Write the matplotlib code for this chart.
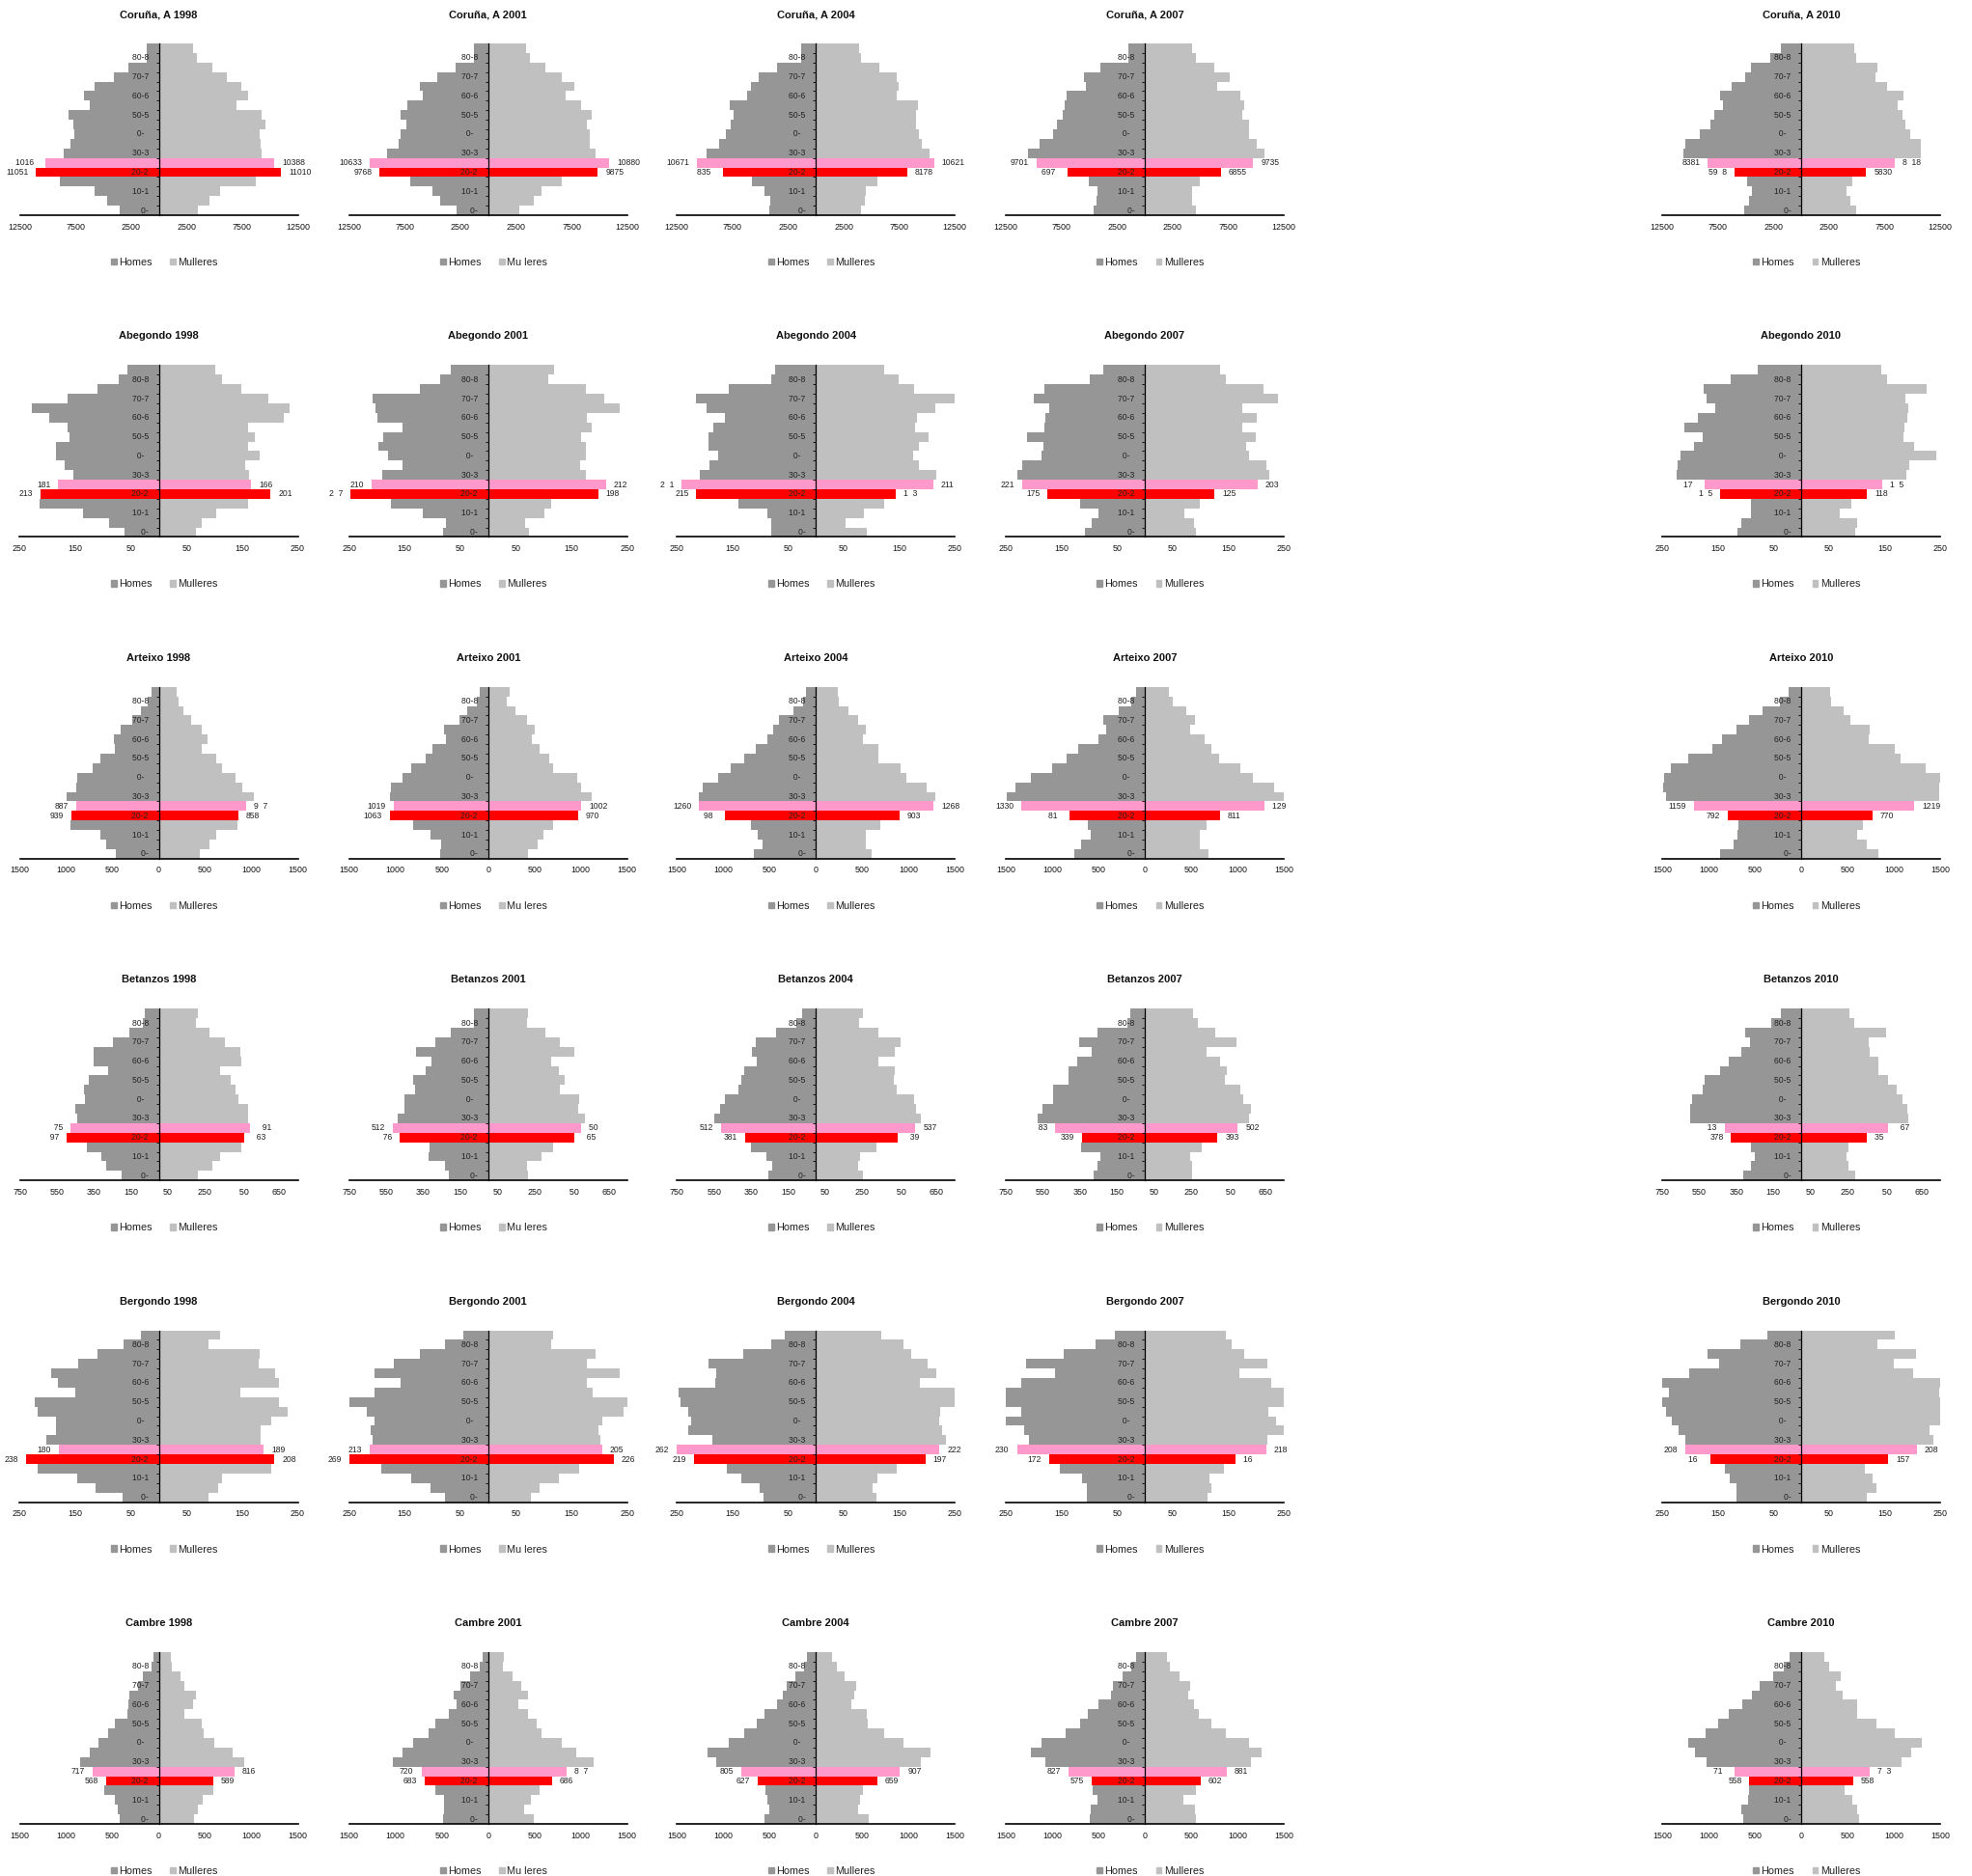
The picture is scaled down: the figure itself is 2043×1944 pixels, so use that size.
"""
Population pyramids (Homes / Mulleres) by 5-year age group for six municipalities
and five census years. Ages 20-24 and 25-29 are highlighted.
The original render had no glyph for '4' (and sometimes 'l'), so the small labels
show a blank there; that is reproduced on purpose.
"""
import matplotlib

matplotlib.use("Agg")
import matplotlib.pyplot as plt
from matplotlib.patches import Patch

plt.rcParams["font.family"] = ["Liberation Sans", "DejaVu Sans"]

YEARS = [1998, 2001, 2004, 2007, 2010]
MUNICIPALITIES = ["Coruña, A", "Abegondo", "Arteixo", "Betanzos", "Bergondo", "Cambre"]
AGE_LABELS = ["0-4", "10-14", "20-24", "30-34", "40-44", "50-54", "60-64", "70-74", "80-84"]

# values per age group, bottom (0-4) to top (85+)
CORUNA_HOMES = {
    1998: [3500, 4640, 5780, 8890, 11051, 10164, 8510, 7900, 7600, 7680, 8130, 6230, 6690, 5780, 4030, 2740, 1060, 1060],
    2001: [2860, 4290, 4970, 7000, 9768, 10633, 9110, 8060, 7900, 7380, 7830, 7230, 5870, 6100, 4590, 2940, 1280, 1280],
    2004: [4220, 4070, 4670, 5720, 8354, 10671, 9860, 8730, 8060, 7680, 7380, 7760, 6170, 5870, 5120, 3460, 1360, 1360],
    2007: [4590, 4370, 4290, 5040, 6974, 9701, 10470, 9490, 8280, 7900, 7380, 7230, 7000, 5270, 5500, 3990, 1510, 1510],
    2010: [5120, 4680, 4390, 4860, 5948, 8381, 10570, 10390, 9130, 8170, 7810, 7050, 7320, 6290, 5030, 4510, 2810, 1840],
}
CORUNA_MULLERES = {
    1998: [3500, 4560, 5550, 8740, 11010, 10388, 9270, 9200, 9040, 9580, 9270, 6990, 8060, 7450, 6080, 4860, 3420, 3120],
    2001: [2790, 4070, 4820, 6630, 9875, 10880, 9640, 9110, 9110, 8890, 9340, 8360, 6930, 7760, 6630, 5120, 3770, 3390],
    2004: [4070, 4370, 4520, 5500, 8178, 10621, 10240, 9490, 9260, 8960, 8960, 9190, 7300, 7450, 7230, 5720, 4070, 3840],
    2007: [4590, 4290, 4290, 4970, 6855, 9735, 10770, 10090, 9340, 9340, 8810, 8960, 8580, 6550, 7680, 6250, 4590, 4220],
    2010: [4980, 4420, 4100, 4620, 5830, 8418, 10770, 10740, 9830, 9340, 9100, 8720, 9160, 7730, 6700, 6850, 4980, 4800],
}
ABEGONDO_HOMES = {
    1998: [62, 89, 136, 214, 213, 181, 154, 169, 185, 185, 160, 164, 197, 229, 164, 110, 72, 57],
    2001: [81, 76, 118, 175, 247, 210, 190, 154, 180, 197, 189, 154, 199, 203, 208, 123, 87, 68],
    2004: [81, 80, 87, 139, 215, 241, 208, 191, 175, 194, 194, 185, 163, 197, 215, 157, 81, 74],
    2007: [108, 96, 83, 116, 175, 221, 229, 220, 185, 182, 211, 181, 178, 172, 200, 181, 99, 75],
    2010: [115, 108, 90, 90, 145, 174, 224, 223, 217, 193, 177, 210, 185, 155, 170, 175, 126, 78],
}
ABEGONDO_MULLERES = {
    1998: [66, 78, 104, 161, 201, 166, 163, 155, 182, 160, 172, 161, 224, 235, 197, 149, 114, 101],
    2001: [73, 67, 102, 114, 198, 212, 176, 165, 175, 175, 168, 187, 178, 236, 209, 175, 109, 118],
    2004: [92, 53, 87, 122, 143, 211, 217, 185, 175, 185, 202, 179, 181, 214, 250, 176, 148, 122],
    2007: [92, 89, 72, 99, 125, 203, 224, 218, 188, 182, 200, 176, 202, 176, 239, 214, 146, 136],
    2010: [98, 100, 69, 91, 118, 145, 190, 194, 243, 203, 184, 185, 191, 193, 187, 225, 155, 144],
}
ARTEIXO_HOMES = {
    1998: [461, 570, 633, 949, 939, 887, 994, 895, 877, 714, 633, 470, 488, 416, 289, 190, 118, 81],
    2001: [515, 506, 624, 805, 1063, 1019, 1058, 1049, 922, 832, 669, 597, 452, 479, 307, 226, 127, 90],
    2004: [670, 574, 629, 705, 984, 1260, 1265, 1217, 1054, 919, 774, 650, 522, 463, 401, 242, 140, 104],
    2007: [759, 687, 588, 615, 814, 1330, 1490, 1392, 1229, 1003, 841, 714, 497, 416, 452, 280, 145, 90],
    2010: [870, 733, 688, 681, 792, 1159, 1460, 1490, 1483, 1410, 1214, 956, 853, 698, 561, 413, 227, 138],
}
ARTEIXO_MULLERES = {
    1998: [443, 551, 624, 850, 858, 947, 1031, 904, 823, 687, 624, 461, 524, 461, 353, 262, 217, 190],
    2001: [425, 533, 597, 705, 970, 1002, 1121, 1003, 958, 705, 660, 551, 470, 506, 416, 298, 199, 235],
    2004: [597, 540, 540, 691, 903, 1268, 1293, 1199, 975, 912, 670, 670, 505, 543, 456, 353, 245, 232],
    2007: [687, 597, 597, 669, 811, 1294, 1495, 1392, 1166, 1031, 805, 723, 651, 488, 542, 443, 307, 262],
    2010: [832, 712, 599, 671, 770, 1219, 1490, 1486, 1495, 1348, 1073, 1011, 729, 740, 530, 454, 327, 310],
}
BETANZOS_HOMES = {
    1998: [203, 285, 312, 389, 497, 475, 438, 452, 398, 402, 380, 276, 353, 353, 249, 158, 86, 77],
    2001: [212, 235, 321, 316, 476, 512, 488, 452, 452, 393, 407, 339, 307, 389, 285, 203, 77, 77],
    2004: [258, 235, 267, 348, 381, 512, 551, 515, 493, 420, 402, 389, 321, 344, 325, 217, 108, 72],
    2007: [276, 253, 240, 344, 339, 483, 579, 551, 493, 493, 411, 411, 362, 285, 353, 253, 95, 77],
    2010: [313, 270, 250, 270, 378, 413, 601, 601, 587, 532, 522, 437, 390, 322, 274, 300, 159, 111],
}
BETANZOS_MULLERES = {
    1998: [212, 289, 330, 447, 463, 491, 484, 484, 429, 416, 389, 330, 447, 438, 357, 276, 199, 212],
    2001: [217, 208, 289, 348, 465, 504, 520, 484, 493, 389, 411, 380, 339, 466, 389, 307, 208, 217],
    2004: [253, 226, 240, 325, 439, 537, 565, 538, 529, 438, 420, 425, 339, 425, 457, 339, 235, 253],
    2007: [253, 253, 244, 307, 393, 502, 565, 574, 529, 515, 434, 443, 407, 334, 493, 380, 285, 262],
    2010: [291, 257, 247, 255, 354, 467, 577, 574, 546, 517, 471, 418, 419, 368, 366, 457, 289, 260],
}
BERGONDO_HOMES = {
    1998: [65, 113, 146, 218, 238, 180, 203, 185, 185, 218, 223, 151, 182, 193, 145, 110, 63, 32],
    2001: [77, 104, 139, 193, 269, 213, 208, 212, 205, 218, 251, 205, 157, 205, 169, 123, 77, 44],
    2004: [95, 101, 134, 161, 219, 262, 187, 230, 224, 230, 244, 247, 181, 179, 194, 131, 80, 56],
    2007: [105, 105, 113, 152, 172, 230, 209, 217, 251, 223, 252, 252, 223, 161, 214, 145, 89, 54],
    2010: [117, 117, 128, 138, 164, 208, 209, 220, 232, 243, 250, 237, 250, 202, 148, 169, 109, 60],
}
BERGONDO_MULLERES = {
    1998: [89, 107, 114, 202, 208, 189, 184, 184, 202, 232, 217, 146, 217, 209, 179, 182, 89, 111],
    2001: [77, 92, 127, 163, 226, 205, 202, 199, 205, 244, 252, 188, 178, 236, 178, 193, 113, 116],
    2004: [108, 102, 111, 146, 197, 222, 233, 227, 221, 224, 251, 253, 187, 217, 200, 172, 158, 117],
    2007: [113, 119, 116, 142, 164, 218, 221, 253, 236, 223, 255, 255, 227, 170, 220, 179, 157, 145],
    2010: [118, 136, 129, 114, 157, 208, 237, 231, 253, 250, 253, 248, 253, 201, 167, 207, 137, 168],
}
CAMBRE_HOMES = {
    1998: [427, 441, 475, 593, 568, 717, 850, 750, 656, 545, 472, 337, 333, 316, 229, 177, 83, 56],
    2001: [488, 479, 479, 570, 683, 720, 1031, 922, 814, 642, 570, 425, 344, 371, 298, 190, 90, 63],
    2004: [560, 506, 524, 542, 627, 805, 1076, 1166, 940, 777, 642, 551, 416, 362, 316, 217, 127, 99],
    2007: [597, 579, 506, 560, 575, 827, 1076, 1229, 1112, 850, 696, 615, 497, 362, 344, 244, 145, 90],
    2010: [620, 645, 575, 559, 558, 714, 1020, 1150, 1220, 1029, 900, 782, 635, 530, 446, 298, 192, 130],
}
CAMBRE_MULLERES = {
    1998: [378, 427, 472, 586, 589, 816, 923, 802, 600, 482, 462, 281, 368, 396, 274, 239, 142, 125],
    2001: [488, 389, 461, 551, 686, 847, 1139, 949, 796, 579, 524, 425, 325, 434, 353, 262, 163, 172],
    2004: [570, 452, 479, 506, 659, 907, 1130, 1238, 940, 741, 560, 551, 380, 416, 434, 307, 226, 172],
    2007: [551, 542, 416, 551, 602, 881, 1148, 1257, 1121, 877, 714, 579, 533, 470, 488, 380, 271, 244],
    2010: [624, 607, 556, 470, 558, 743, 1087, 1190, 1303, 1012, 813, 607, 600, 446, 377, 425, 298, 247],
}
HOMES = [CORUNA_HOMES, ABEGONDO_HOMES, ARTEIXO_HOMES, BETANZOS_HOMES, BERGONDO_HOMES, CAMBRE_HOMES]
MULLERES = [CORUNA_MULLERES, ABEGONDO_MULLERES, ARTEIXO_MULLERES, BETANZOS_MULLERES,
            BERGONDO_MULLERES, CAMBRE_MULLERES]

AXIS_LIMITS = [12500, 250, 1500, 750, 250, 1500]
AXIS_TICKS = [
    [-12500, -7500, -2500, 2500, 7500, 12500],
    [-250, -150, -50, 50, 150, 250],
    [-1500, -1000, -500, 0, 500, 1000, 1500],
    [-750, -550, -350, -150, 50, 250, 450, 650],
    [-250, -150, -50, 50, 150, 250],
    [-1500, -1000, -500, 0, 500, 1000, 1500],
]
# second-column legends lost their 'l' in the source render
MULLERES_LABEL_BROKEN = {(0, 1), (2, 1), (3, 1), (4, 1), (5, 1)}

HOMES_COLOR = "#969696"
MULLERES_COLOR = "#c0c0c0"
RED = "#ff0000"
PINK = "#ff99cc"

# layout in pixels of the 2043x1944 canvas
W, H = 2043, 1944
COL_CENTERS = [164.5, 505.7, 845.3, 1186.0, 1866.0]
ROW_STEP = 333.4
AX_TOP, AX_H, HALF_W = 45.0, 178.0, 144.0
TITLE_Y = 15.0
SMALL = 6.2


def glitch(text):
    """The source font had no '4'; keep the gap with a digit-wide space."""
    return str(text).replace("4", "\u2007")


fig = plt.figure(figsize=(W / 100, H / 100), dpi=100)

for r, name in enumerate(MUNICIPALITIES):
    lim = AXIS_LIMITS[r]
    for c, year in enumerate(YEARS):
        cx = COL_CENTERS[c]
        top = AX_TOP + r * ROW_STEP
        ax = fig.add_axes([(cx - HALF_W) / W, 1 - (top + AX_H) / H, 2 * HALF_W / W, AX_H / H])
        men = HOMES[r][year]
        women = MULLERES[r][year]
        idx = list(range(len(men)))
        men_colors = [RED if i == 4 else PINK if i == 5 else HOMES_COLOR for i in idx]
        women_colors = [RED if i == 4 else PINK if i == 5 else MULLERES_COLOR for i in idx]
        ax.barh(idx, [-v for v in men], height=1.0, color=men_colors, linewidth=0)
        ax.barh(idx, women, height=1.0, color=women_colors, linewidth=0)
        ax.set_xlim(-lim, lim)
        ax.set_ylim(-0.5, len(men) - 0.5)

        for side in ("top", "right"):
            ax.spines[side].set_visible(False)
        ax.spines["left"].set_position(("data", 0))
        ax.spines["left"].set_linewidth(0.9)
        ax.spines["bottom"].set_linewidth(1.2)
        ax.set_yticks([i + 0.5 for i in idx[:-1]])
        ax.set_yticklabels([])
        ax.tick_params(axis="y", direction="out", length=2.2, width=0.6)
        ax.set_xticks(AXIS_TICKS[r])
        ax.set_xticklabels([glitch(abs(t)) for t in AXIS_TICKS[r]], fontsize=6.4, color="#111111")
        ax.tick_params(axis="x", length=0, pad=5.5)

        for k, label in enumerate(AGE_LABELS):
            ax.annotate(glitch(label), xy=(0, 2 * k), xytext=(-6, 0), textcoords="offset pixels",
                        ha="right", va="center", fontsize=SMALL, color="#222222", zorder=5)
        for i in (4, 5):
            ax.annotate(glitch(men[i]), xy=(-min(men[i], lim), i), xytext=(-8, 0),
                        textcoords="offset pixels", ha="right", va="center", fontsize=SMALL,
                        color="#222222", annotation_clip=False)
            ax.annotate(glitch(women[i]), xy=(min(women[i], lim), i), xytext=(8, 0),
                        textcoords="offset pixels", ha="left", va="center", fontsize=SMALL,
                        color="#222222", annotation_clip=False)

        mulleres = "Mu leres" if (r, c) in MULLERES_LABEL_BROKEN else "Mulleres"
        handles = [Patch(color=HOMES_COLOR, label="Homes"), Patch(color=MULLERES_COLOR, label=mulleres)]
        ax.legend(handles=handles, ncol=2, loc="center", bbox_to_anchor=(0.52, -0.275),
                  frameon=False, fontsize=7.8, handlelength=0.55, handleheight=0.55,
                  handletextpad=0.2, columnspacing=1.7, borderpad=0, labelcolor="#222222")

        fig.text(cx / W, 1 - (TITLE_Y + r * ROW_STEP) / H, f"{name} {year}", ha="center",
                 va="center", fontsize=8, fontweight="bold", color="#111111")

fig.savefig("out.png", dpi=100)
